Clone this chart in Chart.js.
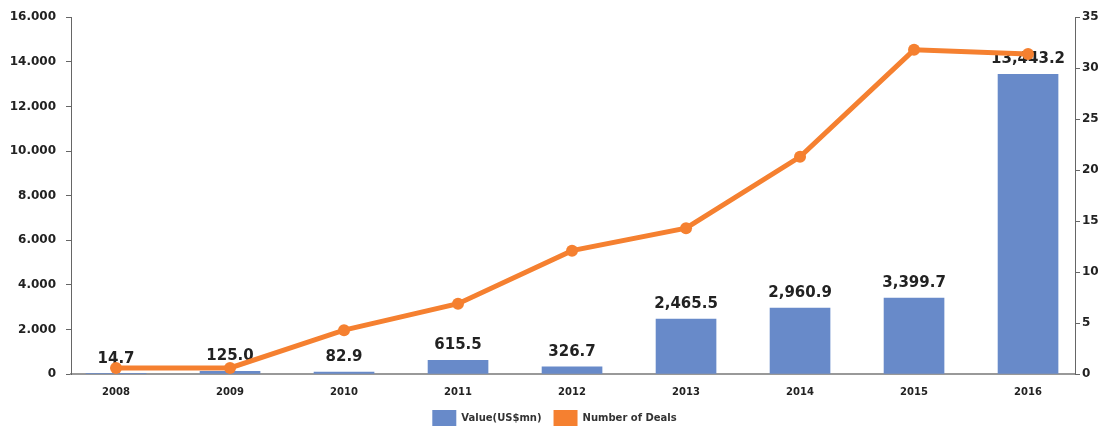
<!DOCTYPE html>
<html>
<head>
<meta charset="utf-8">
<script src="https://cdn.jsdelivr.net/npm/chart.js@4.4.0/dist/chart.umd.min.js"></script>
<style>
  html,body{margin:0;padding:0;background:#fff;}
  #box{width:1109px;height:432px;}
</style>
</head>
<body>
<div id="box"><canvas id="grafico"></canvas></div>
<script>
// datos
const years = ['2008','2009','2010','2011','2012','2013','2014','2015','2016']
const valueMn = [14.7, 125.0, 82.9, 615.5, 326.7, 2465.5, 2960.9, 3399.7, 13443.2]
const valueLabels = ['14.7','125.0','82.9','615.5','326.7','2,465.5','2,960.9','3,399.7','13,443.2']
const deals = [0.6, 0.6, 4.3, 6.9, 12.1, 14.3, 21.3, 31.8, 31.4]
const leftTicks = [0, 2000, 4000, 6000, 8000, 10000, 12000, 14000, 16000]
const rightTicks = [0, 5, 10, 15, 20, 25, 30, 35]

const azul = 'rgb(104,138,201)'
const naranja = 'rgb(245,128,48)'
const fuente = "'DejaVu Sans', 'Liberation Sans', Arial, sans-serif"

// etiquetas encima de las barras
const etiquetasBarras = {
  id: 'etiquetasBarras',
  afterDatasetDraw(chart, args) {
    if (args.index !== 0) return
    const ctx = chart.ctx
    ctx.save()
    ctx.font = 'bold 15px ' + fuente
    ctx.fillStyle = '#222'
    ctx.textAlign = 'center'
    ctx.textBaseline = 'middle'
    args.meta.data.forEach((bar, i) => {
      ctx.fillText(valueLabels[i], bar.x, bar.y - 15)
    })
    ctx.restore()
  }
}

const graf = document.getElementById('grafico').getContext('2d')
const chart = new Chart(graf, {
  type: 'bar',
  data: {
    datasets: [
      {
        type: 'bar',
        label: 'Value(US$mn)',
        data: valueMn.map((v, i) => ({x: i, y: v})),
        backgroundColor: azul,
        barThickness: 60,
        yAxisID: 'y',
        order: 1
      },
      {
        type: 'line',
        label: 'Number of Deals',
        data: deals.map((v, i) => ({x: i, y: v})),
        borderColor: naranja,
        backgroundColor: naranja,
        borderWidth: 5,
        pointRadius: 6,
        pointBorderWidth: 0,
        pointBackgroundColor: naranja,
        tension: 0,
        fill: false,
        yAxisID: 'y1',
        order: 0
      }
    ]
  },
  options: {
    responsive: true,
    maintainAspectRatio: false,
    animation: false,
    layout: {padding: {top: 16, left: 0, right: 0, bottom: 0}},
    plugins: {
      tooltip: {enabled: false},
      legend: {
        position: 'bottom',
        maxHeight: 34,
        labels: {
          boxWidth: 24,
          boxHeight: 16,
          padding: 12,
          color: '#333',
          font: {family: fuente, size: 10, weight: 'bold'},
          sort: (a, b) => a.datasetIndex - b.datasetIndex,
          generateLabels: chart => Chart.defaults.plugins.legend.labels.generateLabels(chart)
            .map(l => ({...l, lineWidth: 0, fillStyle: chart.data.datasets[l.datasetIndex].backgroundColor}))
        }
      }
    },
    scales: {
      x: {
        type: 'linear',
        offset: false,
        min: -0.395,
        max: 8.412,
        afterBuildTicks: s => { s.ticks = years.map((y, i) => ({value: i})) },
        afterFit: s => { s.height = 24 },
        grid: {display: false, drawTicks: false, offset: false},
        border: {display: true, color: '#999', width: 2},
        ticks: {
          autoSkip: false,
          maxRotation: 0,
          padding: 12,
          color: '#222',
          font: {family: fuente, size: 10, weight: 'bold'},
          callback: v => years[v]
        }
      },
      y: {
        position: 'left',
        min: 0,
        max: 16000,
        afterBuildTicks: s => { s.ticks = leftTicks.map(v => ({value: v})) },
        afterFit: s => { s.width = 71 },
        grid: {display: true, drawOnChartArea: false, drawTicks: true, tickLength: 5, color: '#666'},
        border: {display: true, color: '#666', width: 1},
        ticks: {
          padding: 10,
          color: '#222',
          font: {family: fuente, size: 12, weight: 'bold'},
          callback: v => v.toLocaleString('de-DE')
        }
      },
      y1: {
        position: 'right',
        min: 0,
        max: 35,
        afterBuildTicks: s => { s.ticks = rightTicks.map(v => ({value: v})) },
        afterFit: s => { s.width = 34 },
        grid: {display: true, drawOnChartArea: false, drawTicks: true, tickLength: 5, color: '#666'},
        border: {display: true, color: '#666', width: 1},
        ticks: {
          padding: 2,
          color: '#222',
          font: {family: fuente, size: 12, weight: 'bold'}
        }
      }
    }
  },
  plugins: [etiquetasBarras]
})
</script>
</body>
</html>
